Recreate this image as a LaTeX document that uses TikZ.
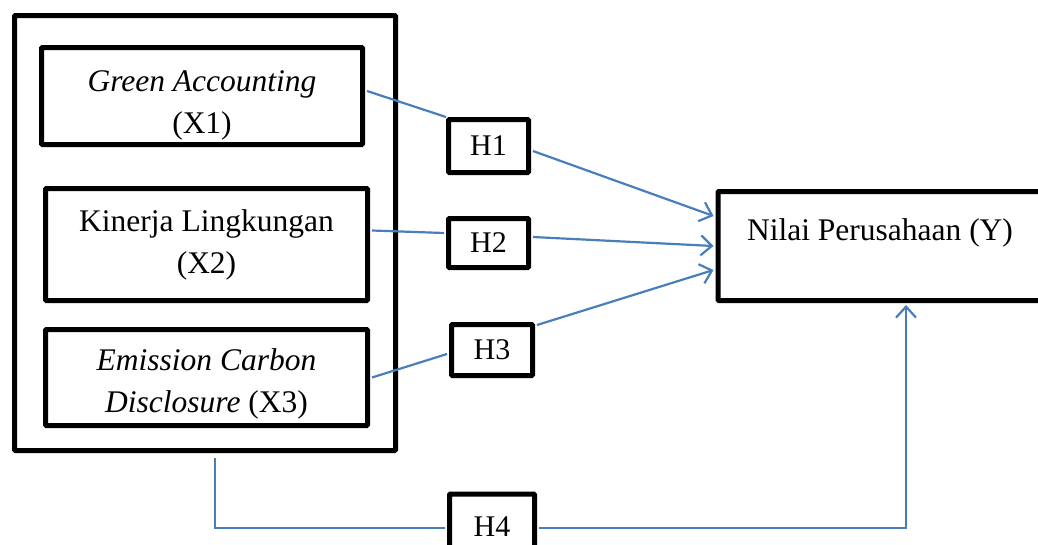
\documentclass[tikz,border=0pt]{standalone}
\usepackage{fontspec}
\setmainfont{Liberation Serif}
\usetikzlibrary{arrows.meta,calc}
\definecolor{conn}{HTML}{4A7EBB}
\tikzset{
  box/.style={draw=black, line width=5pt, rounded corners=1pt, fill=white, inner sep=0pt,
    align=center, font=\fontsize{31.5}{42}\selectfont},
  hbox/.style={box, font=\fontsize{30}{36}\selectfont},
  conline/.style={draw=conn, line width=2.2pt},
  conarrow/.style={conline, -{Straight Barb[length=11pt,width=20pt,line width=2.2pt]}},
}
\begin{document}
\begin{tikzpicture}[x=1pt,y=-1pt]
\useasboundingbox (0,0) rectangle (1038,544);
% group frame
\node[box, minimum width=381pt, minimum height=435pt] (grp) at (205,233) {};
% independent variables
\node[box, minimum width=321pt, minimum height=97pt] (x1) at (202,96)
  {\rule{0pt}{40pt}\textit{Green Accounting}\\(X1)};
\node[box, minimum width=322pt, minimum height=112pt] (x2) at (206.5,244.5)
  {Kinerja Lingkungan\\(X2)};
\node[box, minimum width=322pt, minimum height=96pt] (x3) at (206.5,377.5)
  {\rule{0pt}{34pt}\textit{Emission Carbon}\\\textit{Disclosure} (X3)};
% hypotheses
\node[hbox, minimum width=80pt, minimum height=53pt] (h1) at (488.5,146) {H1};
\node[hbox, minimum width=80pt, minimum height=49pt] (h2) at (488.5,243) {H2};
\node[hbox, minimum width=81pt, minimum height=51pt] (h3) at (492,350) {H3};
\node[hbox, minimum width=85pt, minimum height=66pt] (h4) at (492,527) {H4};
% dependent variable
\node[box, minimum width=324pt, minimum height=109pt, text depth=32pt] (y) at (880,246)
  {Nilai Perusahaan (Y)};
% connectors
\draw[conline] ($(x1.east)+(2,-5)$) -- (h1.north west);
\draw[conarrow] ($(h1.east)+(2,5)$) -- ($(y.west)+(-2,-30)$);
\draw[conline] ($(x2.east)+(2,-14)$) -- ($(h2.west)+(-2,-10)$);
\draw[conarrow] ($(h2.east)+(2,-6)$) -- ($(y.west)+(-2,0)$);
\draw[conline] ($(x3.east)+(2,0)$) -- ($(h3.west)+(-2,4)$);
\draw[conarrow] ($(h3.north east)+(2,3)$) -- ($(y.west)+(-2,24)$);
\draw[conline, line width=1.6pt] ($(grp.south)+(10,5)$) |- ($(h4.west)+(-2,1)$);
\draw[conarrow, line width=1.6pt] ($(h4.east)+(2,1)$) -| ($(y.south)+(26,2)$);
\end{tikzpicture}
\end{document}
